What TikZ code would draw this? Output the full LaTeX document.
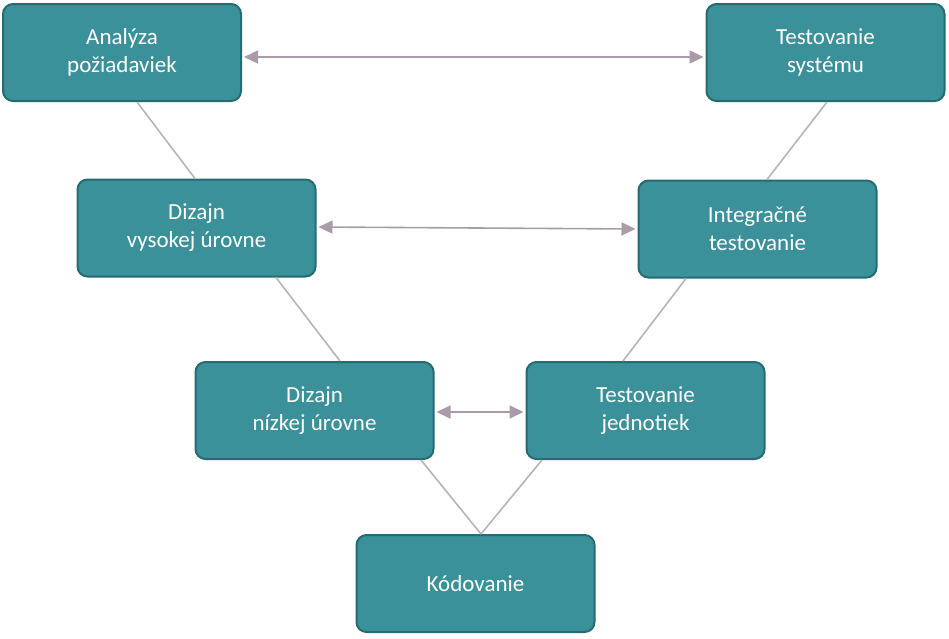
\documentclass[tikz,border=0pt]{standalone}
\usepackage{fontspec}
\setmainfont{Carlito}
\usetikzlibrary{arrows.meta}
\definecolor{boxfill}{HTML}{3A9199}
\definecolor{boxline}{HTML}{266B72}
\definecolor{conn}{HTML}{B5B5B5}
\definecolor{arr}{HTML}{A99CA8}
\begin{document}
\begin{tikzpicture}[x=1pt,y=-1pt,
  box/.style={draw=boxline,line width=2pt,fill=boxfill,rounded corners=10pt,minimum width=238pt,minimum height=97pt,text=white,align=center,font=\fontsize{23}{28}\selectfont,inner sep=0pt},
  link/.style={draw=conn,line width=1.6pt},
  dbl/.style={draw=arr,line width=1.6pt,{Triangle[length=14pt,width=13pt]}-{Triangle[length=14pt,width=13pt]}}]
\useasboundingbox (0,0) rectangle (949,638);
\node[box] (a) at (122,52.5) {Analýza\\požiadaviek};
\node[box] (b) at (825.5,52.5) {Testovanie\\systému};
\node[box] (c) at (196.5,228) {Dizajn\\vysokej úrovne};
\node[box] (d) at (757.5,229) {Integračné\\testovanie};
\node[box] (e) at (314.5,410.5) {Dizajn\\nízkej úrovne};
\node[box] (f) at (645.5,410.5) {Testovanie\\jednotiek};
\node[box] (g) at (475.5,583.5) {Kódovanie};
\draw[link] ([xshift=15]a.south) -- ([xshift=-1.5]c.north);
\draw[link] ([xshift=1.5]b.south) -- ([xshift=9.5]d.north);
\draw[link] ([xshift=79.5]c.south) -- ([xshift=25.5]e.north);
\draw[link] ([xshift=-71.5]d.south) -- ([xshift=-22.5]f.north);
\draw[link] ([xshift=106.5]e.south) -- ([xshift=5.5]g.north);
\draw[link] ([xshift=-103.5]f.south) -- ([xshift=5.5]g.north);
\draw[dbl] ([xshift=2pt,yshift=-4.5]a.east) -- ([xshift=-2pt,yshift=-4.5]b.west);
\draw[dbl] ([xshift=2pt,yshift=1]c.east) -- ([xshift=-2pt]d.west);
\draw[dbl] ([xshift=2pt,yshift=-1.5]e.east) -- ([xshift=-2pt,yshift=-1.5]f.west);
\end{tikzpicture}
\end{document}
